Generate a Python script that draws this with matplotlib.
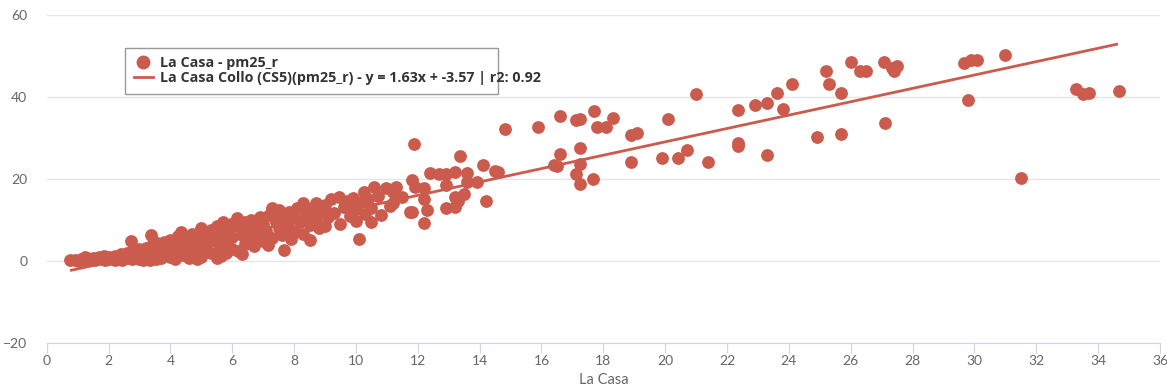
import matplotlib
matplotlib.use("Agg")
import matplotlib.pyplot as plt
from matplotlib.lines import Line2D
from matplotlib.patches import Rectangle

plt.rcParams['font.family'] = ['Lato', 'DejaVu Sans']

# scatter points, (x, y) pairs
points = [
    # x 0.7 - 2
    (0.75, 0.1), (0.9, 0.3), (1.0, 0.0), (1.1, 0.5), (1.2, 0.2), (1.3, 0.6), (1.4, 0.3),
    (1.5, 0.8), (1.6, 0.4), (1.7, 0.9), (1.8, 0.5), (1.9, 0.2), (2.0, 1.0), (2.0, 0.4),
    (1.25, 0.9), (1.55, 0.1), (1.85, 1.2),
    # x 2 - 3
    (2.1, 0.7), (2.2, 1.3), (2.3, 0.5), (2.4, 1.6), (2.5, 0.9), (2.6, 2.0), (2.6, 0.6),
    (2.7, 1.4), (2.73, 4.9), (2.8, 2.4), (2.9, 1.0), (3.0, 2.8), (3.0, 0.5),
    (2.2, 0.2), (2.45, 0.3), (2.75, 0.4), (2.85, 1.8),
    # x 3 - 4
    (3.1, 1.8), (3.2, 3.2), (3.2, 0.8), (3.3, 2.2), (3.38, 6.3), (3.4, 3.8), (3.5, 1.2),
    (3.5, 4.5), (3.6, 2.6), (3.7, 0.6), (3.7, 3.5), (3.8, 4.6), (3.9, 1.8), (3.9, 3.0),
    (4.0, 5.2), (4.0, 0.9), (3.1, 0.3), (3.35, 0.2), (3.55, 0.5), (3.8, 2.3),
    # x 4 - 5
    (4.1, 2.5), (4.2, 4.0), (4.25, 6.0), (4.35, 7.1), (4.4, 1.5), (4.5, 3.4), (4.5, 5.5),
    (4.6, 0.7), (4.7, 4.6), (4.7, 6.6), (4.8, 2.3), (4.9, 5.2), (5.0, 8.0), (5.0, 3.6),
    (5.0, 1.0), (4.15, 0.4), (4.3, 2.9), (4.6, 2.0), (4.85, 0.5), (4.9, 4.1),
    # x 5 - 6
    (5.1, 6.2), (5.2, 4.4), (5.3, 7.5), (5.3, 2.0), (5.4, 5.6), (5.5, 8.4), (5.5, 0.8),
    (5.6, 3.4), (5.7, 9.6), (5.7, 6.8), (5.8, 1.9), (5.8, 4.8), (5.9, 7.8), (6.0, 5.8),
    (6.0, 3.0), (5.15, 2.8), (5.45, 4.9), (5.65, 1.3), (5.95, 9.0),
    # x 6 - 7
    (6.16, 10.5), (6.2, 8.6), (6.2, 2.4), (6.3, 6.4), (6.4, 9.4), (6.4, 4.2), (6.5, 7.2),
    (6.6, 5.6), (6.6, 10.0), (6.7, 3.6), (6.8, 8.2), (6.9, 6.4), (6.9, 10.8), (7.0, 4.8),
    (7.0, 9.0), (6.3, 1.6), (6.55, 8.9), (6.75, 6.9),
    # x 7 - 8
    (7.1, 7.4), (7.2, 11.2), (7.3, 12.9), (7.3, 5.6), (7.4, 9.6), (7.5, 8.0), (7.5, 12.4),
    (7.6, 6.2), (7.68, 2.7), (7.7, 10.6), (7.8, 8.6), (7.84, 12.0), (7.9, 5.4), (8.0, 11.0),
    (8.0, 7.0), (7.15, 3.9), (7.45, 10.9),
    # x 8 - 9
    (8.1, 13.0), (8.2, 9.4), (8.3, 14.1), (8.3, 6.6), (8.4, 11.6), (8.5, 5.1), (8.5, 8.8),
    (8.6, 12.8), (8.7, 14.2), (8.7, 10.2), (8.8, 8.0), (8.9, 12.4), (9.0, 8.4), (9.0, 13.6),
    (9.1, 10.8),
    # x 9 - 11
    (9.2, 15.0), (9.3, 11.6), (9.45, 15.7), (9.5, 9.0), (9.6, 13.2), (9.7, 14.6), (9.8, 11.0),
    (9.9, 15.4), (10.0, 12.6), (10.0, 9.8), (10.1, 5.3), (10.1, 14.0), (10.26, 16.9),
    (10.3, 11.4), (10.4, 15.0), (10.5, 9.6), (10.5, 13.0), (10.6, 18.1), (10.7, 15.8),
    (10.8, 11.2), (10.96, 17.7),
    # x 11 - 15
    (11.1, 13.4), (11.2, 16.9), (11.2, 14.1), (11.3, 18.1), (11.5, 15.6), (11.76, 12.0),
    (11.8, 12.0), (11.8, 19.8), (11.89, 28.5), (11.9, 18.1), (12.2, 17.7), (12.2, 15.0),
    (12.2, 9.2), (12.3, 12.4), (12.4, 21.4), (12.7, 21.3), (12.9, 21.2), (12.9, 18.5),
    (12.9, 12.9), (13.2, 21.6), (13.2, 15.7), (13.2, 13.2), (13.3, 14.5), (13.38, 25.6),
    (13.5, 16.3), (13.6, 21.5), (13.6, 19.3), (13.9, 19.3), (14.1, 23.3), (14.2, 14.5),
    (14.5, 22.0), (14.6, 21.8), (14.83, 32.1),
    # x 15 - 22
    (15.9, 32.6), (16.4, 23.4), (16.5, 23.2), (16.6, 35.4), (16.6, 26.0), (17.1, 34.4),
    (17.1, 21.2), (17.25, 34.6), (17.25, 27.5), (17.25, 23.7), (17.25, 18.8), (17.65, 19.9),
    (17.7, 36.6), (17.8, 32.6), (18.1, 32.6), (18.3, 34.8), (18.9, 30.7), (18.9, 24.0),
    (19.1, 31.1), (19.9, 25.0), (20.1, 34.6), (20.4, 25.2), (20.7, 27.1), (21.0, 40.7),
    (21.4, 24.0),
    # x 22 - 28
    (22.35, 36.8), (22.35, 28.7), (22.35, 28.0), (22.9, 38.0), (23.3, 38.5), (23.3, 25.9),
    (23.6, 40.9), (23.8, 37.0), (24.1, 43.2), (24.9, 30.2), (25.2, 46.4), (25.3, 43.2),
    (25.7, 40.9), (25.7, 30.9), (26.0, 48.4), (26.3, 46.2), (26.5, 46.3), (27.06, 48.4),
    (27.1, 33.7), (27.35, 47.0), (27.4, 46.2), (27.5, 47.6),
    # x 29 - 35
    (29.67, 48.2), (29.8, 39.3), (29.9, 49.0), (30.07, 48.9), (31.0, 50.1), (31.5, 20.2),
    (33.3, 41.9), (33.5, 40.7), (33.7, 41.0), (34.67, 41.5),
]
point_x = [p[0] for p in points]
point_y = [p[1] for p in points]

trend_x = [0.8, 34.6]
trend_y = [-2.27, 52.83]

x_ticks = list(range(0, 38, 2))
y_ticks = [-20, 0, 20, 40, 60]

red = '#cb5b4d'
grey_text = '#666666'

fig = plt.figure(figsize=(11.67, 3.91), dpi=100)
ax = fig.add_axes([0.040, 0.123, 0.954, 0.839])

ax.scatter(point_x, point_y, s=85, color=red, linewidths=0, zorder=3)
ax.plot(trend_x, trend_y, color=red, linewidth=2, zorder=4)

ax.set_xlim(0, 36)
ax.set_ylim(-20, 60)
ax.set_xticks(x_ticks)
ax.set_yticks(y_ticks)

ax.grid(axis='y', color='#e6e6e6', linewidth=1)
ax.set_axisbelow(True)
for side in ['top', 'right', 'left']:
    ax.spines[side].set_visible(False)
ax.spines['bottom'].set_color('#ccd6eb')
ax.tick_params(axis='x', colors='#ccd6eb', length=7, labelcolor=grey_text, labelsize=10, pad=2)
ax.tick_params(axis='y', length=0, labelcolor=grey_text, labelsize=10, pad=14)
ax.set_xlabel('La Casa', color=grey_text, fontsize=10.5, labelpad=4)

handles = [
    Line2D([], [], marker='o', linestyle='none', color=red, markersize=9),
    Line2D([], [], color=red, linewidth=2),
]
labels = ['La Casa - pm25_r',
          'La Casa Collo (CS5)(pm25_r) - y = 1.63x + -3.57 | r2: 0.92']
leg = ax.legend(handles, labels, loc='upper left', bbox_to_anchor=(0.067, 0.915),
                frameon=False, prop={'family': 'Open Sans', 'weight': 'bold', 'size': 10.3},
                handlelength=1.3, handletextpad=0.5, borderpad=0.4, labelspacing=0.12)
for t in leg.get_texts():
    t.set_color('#333333')

# the legend box in the original is narrower than its text
ax.add_patch(Rectangle((0.0701, 0.759), 0.335, 0.140, transform=ax.transAxes,
                       fill=False, edgecolor='#999999', linewidth=1, zorder=5))

fig.savefig('out.png', dpi=100)
